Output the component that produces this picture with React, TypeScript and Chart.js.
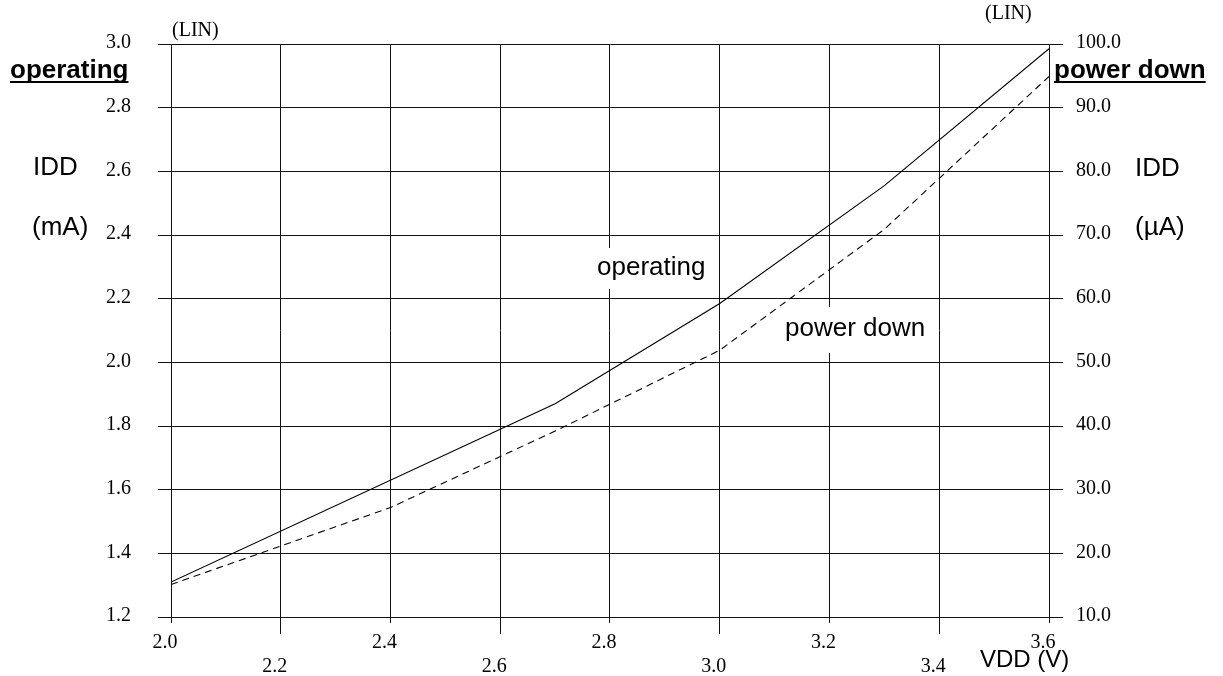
import React, { useEffect, useRef } from 'react';
import { Chart, registerables } from 'chart.js';

Chart.register(...registerables);

// ---- data ----
const vddOperating = [2.0, 2.7, 3.0, 3.3, 3.6];
const operatingMA = [1.31, 1.87, 2.185, 2.555, 2.985];
const vddPowerDown = [2.0, 2.4, 2.7, 3.0, 3.3, 3.6];
const powerDownUA = [15.1, 27.2, 39.2, 51.9, 70.9, 94.9];

const xTickValues = [2.0, 2.2, 2.4, 2.6, 2.8, 3.0, 3.2, 3.4, 3.6];
const xTickLabels = ['2.0', '2.2', '2.4', '2.6', '2.8', '3.0', '3.2', '3.4', '3.6'];
const leftTickValues = [1.2, 1.4, 1.6, 1.8, 2.0, 2.2, 2.4, 2.6, 2.8, 3.0];
const leftTickLabels = ['1.2', '1.4', '1.6', '1.8', '2.0', '2.2', '2.4', '2.6', '2.8', '3.0'];
const rightTickValues = [10, 20, 30, 40, 50, 60, 70, 80, 90, 100];
const rightTickLabels = ['10.0', '20.0', '30.0', '40.0', '50.0', '60.0', '70.0', '80.0', '90.0', '100.0'];

const SERIF = '"Liberation Serif", "Times New Roman", serif';
const SANS = '"Liberation Sans", Arial, sans-serif';

const W = 1223;
const H = 676;
const AREA = { left: 171, right: 1049, top: 44, bottom: 617 };

const annotPlugin = {
  id: 'annot',
  beforeDatasetsDraw(chart: any) {
    const ctx = chart.ctx as CanvasRenderingContext2D;
    const xs = chart.scales.x;
    const bottom = chart.chartArea.bottom;
    ctx.save();
    // longer tick marks for the lower label row
    ctx.strokeStyle = '#111';
    ctx.lineWidth = 1;
    xTickValues.forEach((v, i) => {
      if (i % 2 === 1) {
        const px = Math.round(xs.getPixelForValue(v) - 0.5) + 0.5;
        ctx.beginPath();
        ctx.moveTo(px, bottom);
        ctx.lineTo(px, bottom + 17);
        ctx.stroke();
      }
    });
    // white boxes behind in-plot labels
    ctx.fillStyle = '#fff';
    ctx.fillRect(590, 248, 125, 41);
    ctx.fillRect(779, 307, 154, 46);
    ctx.fillStyle = '#000';
    ctx.textBaseline = 'alphabetic';
    ctx.textAlign = 'left';
    ctx.font = `26px ${SANS}`;
    ctx.fillText('operating', 597, 275);
    ctx.fillText('power down', 785, 336);
    ctx.restore();
  },
  afterDraw(chart: any) {
    const ctx = chart.ctx as CanvasRenderingContext2D;
    ctx.save();
    ctx.fillStyle = '#000';
    ctx.textBaseline = 'alphabetic';
    ctx.textAlign = 'left';
    // (LIN)
    ctx.font = `20px ${SERIF}`;
    ctx.fillText('(LIN)', 172, 36);
    ctx.fillText('(LIN)', 985, 19);
    // axis names
    ctx.font = `26px ${SANS}`;
    ctx.fillText('IDD', 33, 175);
    ctx.fillText('(mA)', 32, 235);
    ctx.fillText('IDD', 1135, 176);
    ctx.fillText('(\u00b5A)', 1135, 235);
    ctx.font = `24px ${SANS}`;
    ctx.fillText('VDD (V)', 980, 667);
    // bold underlined series headers
    ctx.font = `bold 26px ${SANS}`;
    const drawUnderlined = (t: string, x: number, y: number) => {
      ctx.fillText(t, x, y);
      const w = ctx.measureText(t).width;
      ctx.fillRect(x, y + 3, w, 2);
    };
    drawUnderlined('operating', 10, 78);
    drawUnderlined('power down', 1054, 78);
    ctx.restore();
  },
};

export default function App() {
  const ref = useRef<HTMLCanvasElement | null>(null);
  useEffect(() => {
    if (!ref.current) return;
    const chart = new Chart(ref.current, {
      type: 'line',
      data: {
        datasets: [
          {
            label: 'operating',
            data: vddOperating.map((x, i) => ({ x, y: operatingMA[i] })),
            yAxisID: 'y',
            borderColor: '#000',
            borderWidth: 1.1,
            pointRadius: 0,
            tension: 0,
            fill: false,
          },
          {
            label: 'power down',
            data: vddPowerDown.map((x, i) => ({ x, y: powerDownUA[i] })),
            yAxisID: 'y2',
            borderColor: '#000',
            borderWidth: 1.1,
            borderDash: [7, 5],
            pointRadius: 0,
            tension: 0,
            fill: false,
          },
        ],
      },
      options: {
        responsive: false,
        animation: false,
        devicePixelRatio: 1,
        layout: { padding: { top: AREA.top, left: 0, right: 0, bottom: 0 } },
        plugins: { legend: { display: false }, tooltip: { enabled: false }, title: { display: false } },
        scales: {
          x: {
            type: 'linear',
            min: 2.0,
            max: 3.6,
            afterBuildTicks: (s: any) => {
              s.ticks = xTickValues.map((value) => ({ value }));
            },
            afterFit: (s: any) => {
              s.height = H - AREA.bottom;
            },
            ticks: {
              autoSkip: false,
              maxRotation: 0,
              minRotation: 0,
              color: '#000',
              font: { family: SERIF, size: 20, lineHeight: 1.2 },
              padding: 8,
              labelOffset: -6,
              callback: (_v: any, i: number) => (i % 2 === 1 ? ['', xTickLabels[i]] : xTickLabels[i]),
            },
            grid: { color: '#111', lineWidth: 1, tickLength: 6, drawTicks: true },
            border: { display: true, color: '#111', width: 1 },
          },
          y: {
            type: 'linear',
            position: 'left',
            min: 1.2,
            max: 3.0,
            afterBuildTicks: (s: any) => {
              s.ticks = leftTickValues.map((value) => ({ value }));
            },
            afterFit: (s: any) => {
              s.width = AREA.left;
            },
            ticks: {
              autoSkip: false,
              color: '#000',
              font: { family: SERIF, size: 20 },
              padding: 27,
              labelOffset: -1,
              callback: (_v: any, i: number) => leftTickLabels[i],
            },
            grid: { color: '#111', lineWidth: 1, tickLength: 13 },
            border: { display: true, color: '#111', width: 1 },
          },
          y2: {
            type: 'linear',
            position: 'right',
            min: 10,
            max: 100,
            afterBuildTicks: (s: any) => {
              s.ticks = rightTickValues.map((value) => ({ value }));
            },
            afterFit: (s: any) => {
              s.width = W - AREA.right;
            },
            ticks: {
              autoSkip: false,
              color: '#000',
              font: { family: SERIF, size: 20 },
              padding: 13,
              labelOffset: -1,
              callback: (_v: any, i: number) => rightTickLabels[i],
            },
            grid: { color: '#111', lineWidth: 1, tickLength: 14, drawOnChartArea: false },
            border: { display: true, color: '#111', width: 1 },
          },
        },
      } as any,
      plugins: [annotPlugin],
    });
    return () => chart.destroy();
  }, []);
  return (
    <div style={{ position: 'absolute', left: 0, top: 0, width: W, height: H, background: '#fff' }}>
      <canvas ref={ref} width={W} height={H} style={{ display: 'block', width: W, height: H }} />
    </div>
  );
}
